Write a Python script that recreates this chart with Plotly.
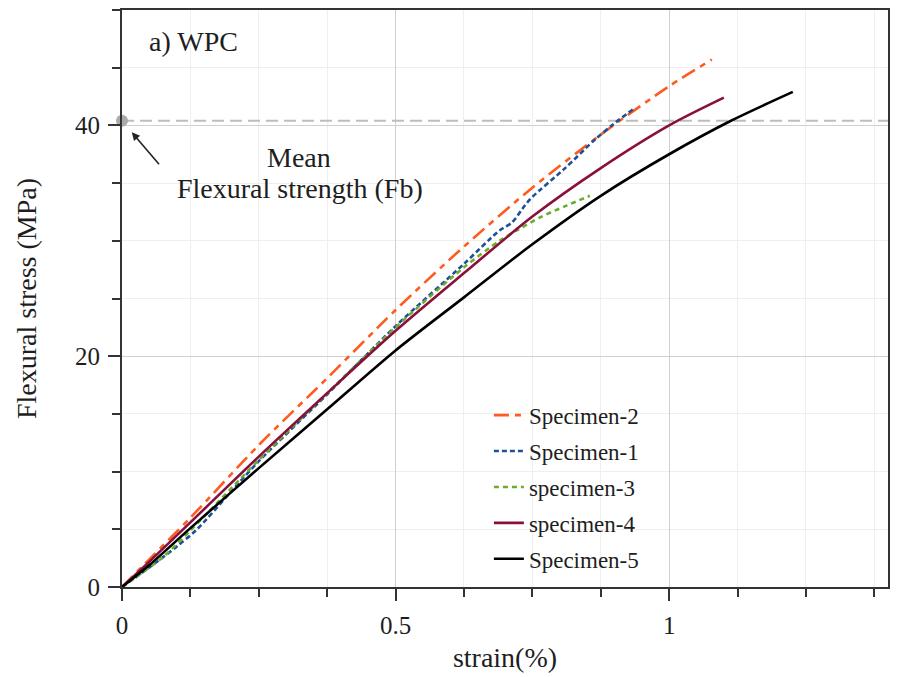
import plotly.graph_objects as go

# ---- data ----
s2_x = [0, 0.05, 0.125, 0.25, 0.375, 0.5, 0.625, 0.75, 0.875, 1.0, 1.078]
s2_y = [0, 2.4, 6.0, 12.3, 18.1, 24.0, 29.5, 34.6, 39.2, 43.4, 45.7]

s1_x = [0, 0.05, 0.1, 0.136, 0.2, 0.25, 0.375, 0.5, 0.625, 0.69, 0.713, 0.737, 0.75, 0.81, 0.865, 0.898, 0.934]
s1_y = [0, 1.7, 3.5, 4.95, 8.3, 10.9, 16.7, 22.6, 28.0, 30.9, 31.6, 33.1, 33.8, 36.3, 38.8, 40.1, 41.4]

s3_x = [0, 0.075, 0.125, 0.25, 0.375, 0.5, 0.625, 0.69, 0.725, 0.767, 0.81, 0.855]
s3_y = [0, 2.6, 4.9, 11.0, 16.8, 22.5, 27.7, 30.0, 31.0, 32.1, 33.0, 33.9]

s4_x = [0, 0.05, 0.125, 0.25, 0.375, 0.5, 0.625, 0.75, 0.875, 1.0, 1.1]
s4_y = [0, 2.2, 5.6, 11.3, 16.8, 22.2, 27.2, 32.1, 36.3, 40.0, 42.4]

s5_x = [0, 0.05, 0.125, 0.25, 0.375, 0.5, 0.625, 0.75, 0.875, 1.0, 1.113, 1.226]
s5_y = [0, 1.9, 5.1, 10.3, 15.4, 20.5, 25.1, 29.7, 33.9, 37.5, 40.4, 42.9]

names = ["Specimen-2", "Specimen-1", "specimen-3", "specimen-4", "Specimen-5"]

mean_fb = 40.4
x_range = [0, 1.4]
y_range = [0, 50]

FONT = "Liberation Serif"
TXT = "#1e1e1e"

fig = go.Figure()

# mean flexural strength line
fig.add_trace(go.Scatter(x=x_range, y=[mean_fb, mean_fb], mode="lines",
                         line=dict(color="#bdbdbd", width=2, dash="12px,6px"),
                         showlegend=False, hoverinfo="skip"))
fig.add_trace(go.Scatter(x=[0], y=[mean_fb], mode="markers",
                         marker=dict(color="#ababab", size=12),
                         cliponaxis=False, showlegend=False, hoverinfo="skip"))

series = [
    (names[0], s2_x, s2_y, "#ff5a1f", "15px,6px,6px,6px"),
    (names[1], s1_x, s1_y, "#1f4f96", "5px,3px"),
    (names[2], s3_x, s3_y, "#6aad2c", "5px,4px"),
    (names[3], s4_x, s4_y, "#8a0f3c", "solid"),
    (names[4], s5_x, s5_y, "#000000", "solid"),
]
for name, xs, ys, col, dash in series:
    fig.add_trace(go.Scatter(x=xs, y=ys, mode="lines", name=name,
                             legendgroup=name,
                             line=dict(color=col, width=2.6, dash=dash,
                                       shape="spline", smoothing=0.8)))

fig.add_annotation(x=0.018, y=39.4, ax=0.07, ay=36.5, axref="x", ayref="y",
                   xref="x", yref="y", text="", showarrow=True,
                   arrowhead=2, arrowsize=1, arrowwidth=1.6, arrowcolor="#222")
fig.add_annotation(x=0.324, y=37.2, xref="x", yref="y", text="Mean",
                   showarrow=False, font=dict(family=FONT, size=28, color=TXT))
fig.add_annotation(x=0.326, y=34.5, xref="x", yref="y",
                   text="Flexural strength (Fb)", showarrow=False,
                   font=dict(family=FONT, size=28, color=TXT))
fig.add_annotation(x=0.045, y=47.3, xref="x", yref="y", text="a) WPC",
                   showarrow=False, xanchor="left",
                   font=dict(family=FONT, size=28, color=TXT))

axis_common = dict(
    showline=True, linecolor="#333", linewidth=2, mirror=True,
    ticks="outside", ticklen=12, tickwidth=1.6, tickcolor="#333",
    ticklabelstandoff=3,
    showgrid=True, gridcolor="#d0d0d0", gridwidth=1,
    zeroline=False,
    tickfont=dict(family=FONT, size=25, color=TXT),
)

fig.update_xaxes(range=x_range, dtick=0.5, tick0=0,
                 minor=dict(dtick=0.125, ticks="outside", ticklen=8, tickwidth=1.6,
                            tickcolor="#333", showgrid=True, gridcolor="#efefef"),
                 title=dict(text="strain(%)", font=dict(family=FONT, size=28, color=TXT), standoff=9),
                 **axis_common)
fig.update_yaxes(range=y_range, dtick=20, tick0=0,
                 minor=dict(dtick=5, ticks="outside", ticklen=8, tickwidth=1.6,
                            tickcolor="#333", showgrid=True, gridcolor="#efefef"),
                 title=dict(text="Flexural stress (MPa)", font=dict(family=FONT, size=28, color=TXT), standoff=30),
                 **axis_common)

fig.update_layout(
    width=897, height=677,
    margin=dict(l=122, r=7, t=10, b=90),
    paper_bgcolor="white", plot_bgcolor="white",
    showlegend=True,
    legend=dict(x=0.479, y=0.335, xanchor="left", yanchor="top",
                bgcolor="rgba(0,0,0,0)", tracegroupgap=3,
                font=dict(family=FONT, size=23, color=TXT)),
)

fig.write_html("out.html")
